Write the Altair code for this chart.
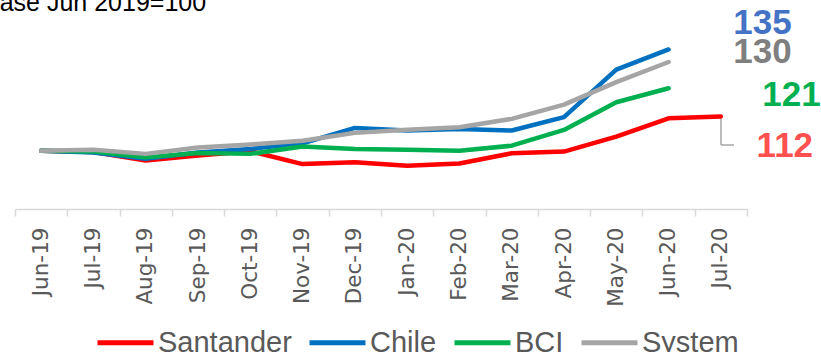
import altair as alt
import pandas as pd

months = ["Jun-19", "Jul-19", "Aug-19", "Sep-19", "Oct-19", "Nov-19", "Dec-19",
          "Jan-20", "Feb-20", "Mar-20", "Apr-20", "May-20", "Jun-20", "Jul-20"]
series_names = ["Santander", "Chile", "BCI", "System"]
santander = [100, 99.5, 96.6, 98.3, 99.8, 95.4, 96.0, 94.8, 95.6, 99.1, 99.7, 104.8, 111.1, 111.7]
chile = [100, 99.4, 97.2, 99.4, 100.6, 102.5, 107.8, 106.9, 107.4, 106.9, 111.5, 127.8, 134.7]
bci = [100, 99.7, 97.7, 99.2, 98.9, 101.4, 100.6, 100.3, 100.0, 101.7, 107.1, 116.6, 121.4]
system = [100, 100.3, 98.9, 101.1, 102.1, 103.4, 106.1, 107.2, 108.0, 110.9, 115.8, 123.5, 130.4]
line_colors = ["#FF0000", "#0070C0", "#00B050", "#A5A5A5"]
label_colors = ["#FF5050", "#4472C4", "#00B050", "#7F7F7F"]
title_text = "Base Jun 2019=100"

all_series = [santander, chile, bci, system]
rows = []
for name, vals in zip(series_names, all_series):
    for m, v in zip(months, vals):
        rows.append({"month": m, "series": name, "value": v})
df = pd.DataFrame(rows)

label_rows = []
for name, vals, col in zip(series_names, all_series, label_colors):
    label_rows.append({"month": months[len(vals) - 1], "series": name,
                       "value": vals[-1], "text": str(round(vals[-1]))})
labels_df = pd.DataFrame(label_rows)

x_scale = alt.Scale(type="band", domain=months, paddingInner=0, paddingOuter=0)
y_scale = alt.Scale(domain=[80, 140], nice=False, zero=False)

x_axis = alt.Axis(title=None, labelAngle=-90, labelFont="DejaVu Sans", labelFontSize=21.5,
                  labelColor="#595959", labelPadding=11, tickBand="extent", tickSize=7,
                  tickColor="#D9D9D9", domainColor="#D9D9D9", domainWidth=1.5, tickWidth=1.5,
                  grid=False)

lines = alt.Chart(df).mark_line(strokeWidth=4.5, strokeCap="round", strokeJoin="round").encode(
    x=alt.X("month:N", scale=x_scale, axis=x_axis),
    y=alt.Y("value:Q", scale=y_scale, axis=None),
    color=alt.Color("series:N", scale=alt.Scale(domain=series_names, range=line_colors),
                    legend=alt.Legend(title=None, orient="none", direction="horizontal",
                                      legendX=80, legendY=278, symbolType="stroke",
                                      symbolSize=3136, symbolStrokeWidth=5,
                                      labelFont="Liberation Sans", labelFontSize=29,
                                      labelColor="#595959", labelOffset=2,
                                      columnPadding=7, padding=0)),
)

offsets = {"Santander": (64, 29), "Chile": (94, -26), "BCI": (123, 7), "System": (94, -10)}
label_layers = []
for name, col in zip(series_names, label_colors):
    dx, dy = offsets[name]
    label_layers.append(
        alt.Chart(labels_df[labels_df.series == name])
        .mark_text(font="Liberation Sans", fontWeight="bold", fontSize=35, color=col,
                   align="center", baseline="middle", dx=dx, dy=dy)
        .encode(x=alt.X("month:N", scale=x_scale),
                y=alt.Y("value:Q", scale=y_scale), text="text:N")
    )

leader_df = pd.DataFrame({"x": [0]})
leader_v = alt.Chart(leader_df).mark_rule(color="#A6A6A6", strokeWidth=1.5).encode(
    x=alt.value(706), y=alt.value(82), y2=alt.value(111))
leader_h = alt.Chart(leader_df).mark_rule(color="#A6A6A6", strokeWidth=1.5).encode(
    x=alt.value(706), x2=alt.value(719), y=alt.value(111))

title_layer = alt.Chart(pd.DataFrame({"t": [title_text]})).mark_text(
    font="Liberation Sans", fontSize=25, color="#000000", align="left", baseline="alphabetic"
).encode(x=alt.value(-32), y=alt.value(-23), text="t:N")

chart = alt.layer(leader_v, leader_h, lines, *label_layers, title_layer).properties(
    width=732, height=175,
    autosize=alt.AutoSizeParams(type="none"),
    padding={"left": 15, "top": 34, "right": 74, "bottom": 143},
).configure_view(stroke=None)

chart.save("out.html", embed_options={"renderer": "svg", "actions": False})
